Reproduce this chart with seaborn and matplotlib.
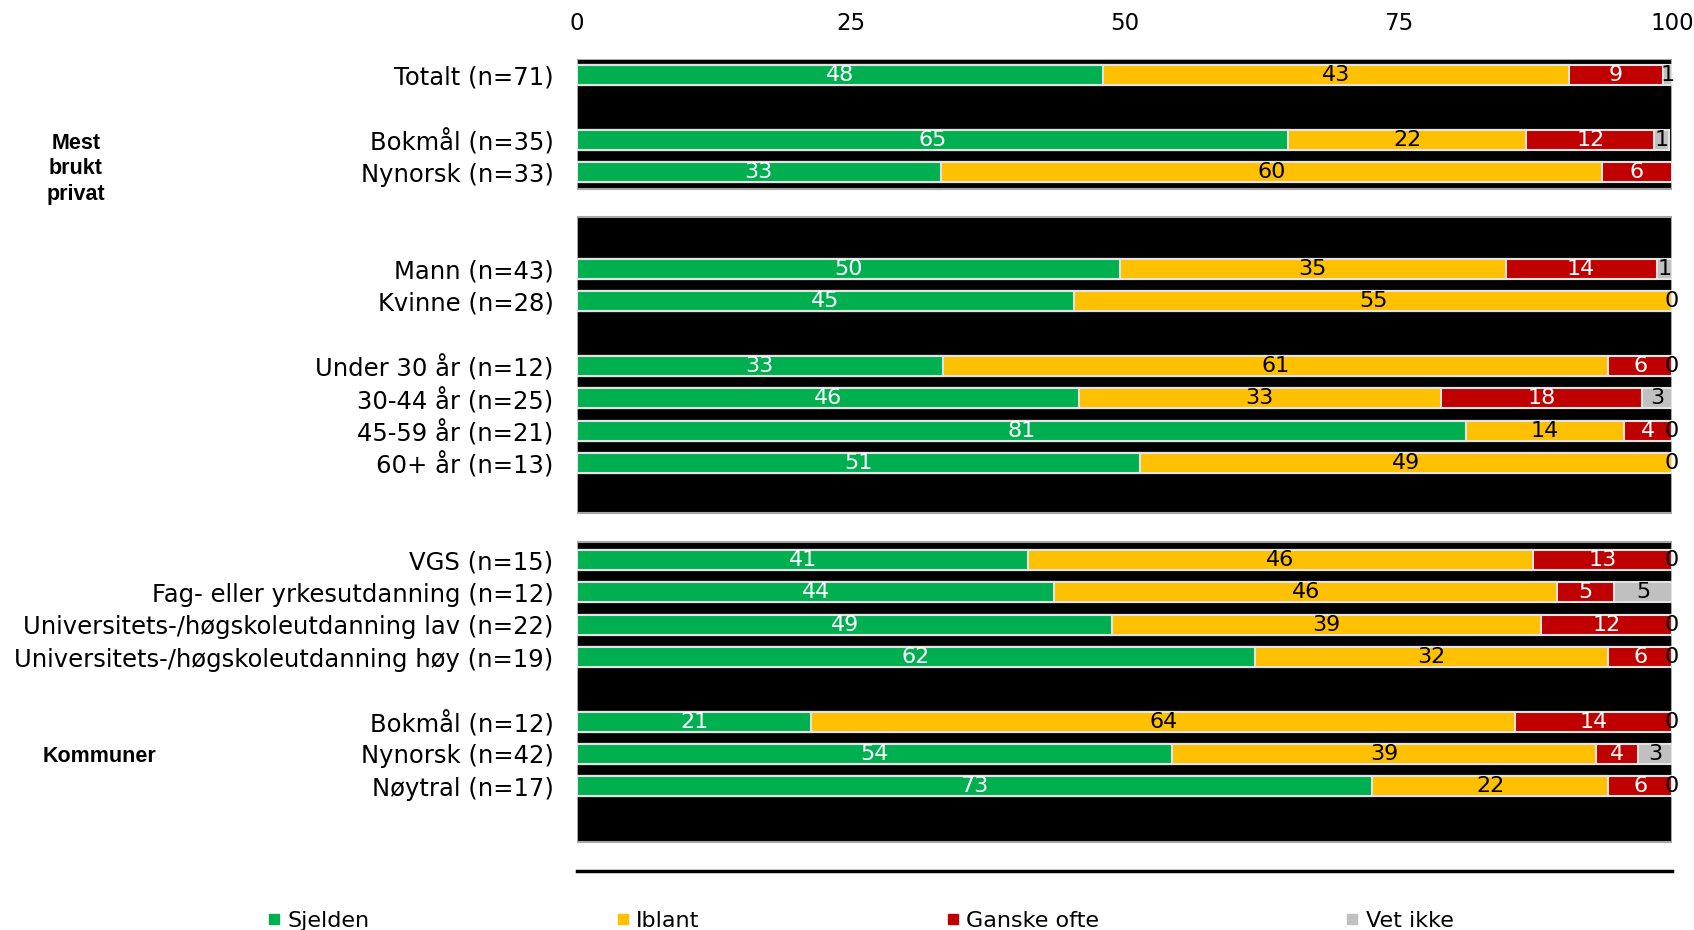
import numpy as np
import pandas as pd
import matplotlib
matplotlib.use('Agg')
import matplotlib.pyplot as plt
from matplotlib.lines import Line2D
import seaborn as sns

# row order of the chart, None = empty spacer row
row_order = ['Totalt (n=71)', None, 'Bokmål (n=35)', 'Nynorsk (n=33)', None, None,
             'Mann (n=43)', 'Kvinne (n=28)', None,
             'Under 30 år (n=12)', '30-44 år (n=25)', '45-59 år (n=21)', '60+ år (n=13)', None, None,
             'VGS (n=15)', 'Fag- eller yrkesutdanning (n=12)',
             'Universitets-/høgskoleutdanning lav (n=22)', 'Universitets-/høgskoleutdanning høy (n=19)', None,
             'Bokmål (n=12)', 'Nynorsk (n=42)', 'Nøytral (n=17)', None]

categories = [r for r in row_order if r is not None]
sjelden = [48.0, 64.9, 33.2, 49.6, 45.4, 33.4, 45.8, 81.2, 51.4, 41.2, 43.6, 48.9, 61.9, 21.4, 54.3, 72.6]
iblant = [42.6, 21.8, 60.4, 35.2, 54.6, 60.8, 33.1, 14.4, 48.6, 46.1, 45.9, 39.1, 32.3, 64.3, 38.8, 21.6]
ganske_ofte = [8.6, 11.7, 6.4, 13.8, np.nan, 5.8, 18.4, 4.4, np.nan, 12.7, 5.2, 12.0, 5.8, 14.3, 3.8, 5.8]
vet_ikke = [0.8, 1.3, np.nan, 1.4, 0, 0, 2.7, 0, 0, 0, 5.3, 0, 0, 0, 3.1, 0]

series = ['Sjelden', 'Iblant', 'Ganske ofte', 'Vet ikke']
colors = ['#00B050', '#FFC000', '#C00000', '#C0C0C0']
text_colors = ['white', 'black', 'white', 'black']

keys = [r if r is not None else f'_blank{i}' for i, r in enumerate(row_order)]
shown = [r if r is not None else '' for r in row_order]

df = pd.DataFrame({'row': categories, 'Sjelden': sjelden, 'Iblant': iblant,
                   'Ganske ofte': ganske_ofte, 'Vet ikke': vet_ikke})
vals = df[series].fillna(0).to_numpy()
cum = np.cumsum(vals, axis=1)
for j, s in enumerate(series):
    df['cum_' + s] = cum[:, j]

sns.set_style('white')
plt.rcParams['font.family'] = ['DejaVu Sans']
plt.rcParams['text.color'] = 'black'
plt.rcParams['xtick.color'] = 'black'
plt.rcParams['ytick.color'] = 'black'

fig = plt.figure(figsize=(16.94, 9.30), dpi=100)
ax = fig.add_axes([577 / 1694, 59 / 930, 1095 / 1694, 812 / 930])

# black panels behind the bars
for top, bottom in [(-0.5, 3.53), (4.40, 13.56), (14.44, 23.72)]:
    ax.axhspan(top, bottom, facecolor='black', edgecolor='#A6A6A6', linewidth=1.5, zorder=0)

# stacked bars: draw cumulative totals from the back
for j in range(len(series) - 1, -1, -1):
    s = series[j]
    sns.barplot(data=df, x='cum_' + s, y='row', order=keys, orient='h', color=colors[j],
                saturation=1, width=0.62, edgecolor='#E3E3E3', linewidth=1.5,
                errorbar=None, ax=ax, zorder=2)

# value labels
raw = df[series].to_numpy()
for i, r in enumerate(categories):
    ypos = keys.index(r)
    left = 0
    for j in range(len(series)):
        v = raw[i, j]
        if np.isnan(v):
            continue
        ax.text(left + v / 2, ypos, f'{v:.0f}', ha='center', va='center',
                color=text_colors[j], fontsize=16, zorder=5)
        left += v

ax.set_xlim(0, 100)
ax.set_ylim(24.62, -0.5)
ax.set_xticks([0, 25, 50, 75, 100])
ax.xaxis.tick_top()
ax.tick_params(axis='x', length=0, pad=17, labelsize=16.5, labelcolor='black')
ax.set_yticks(range(len(keys)))
ax.set_yticklabels(shown, va='center_baseline')
ax.tick_params(axis='y', length=0, pad=17, labelsize=17.5, labelcolor='black')
ax.set_xlabel('')
ax.set_ylabel('')
for side in ['top', 'left', 'right']:
    ax.spines[side].set_visible(False)
ax.spines['bottom'].set_color('black')
ax.spines['bottom'].set_linewidth(2.5)

# group labels
fig.text(76 / 1694, 1 - 169 / 930, 'Mest\nbrukt\nprivat', ha='center', va='center',
         fontweight='bold', family='Liberation Sans', fontsize=15.5, linespacing=1.3,
         color='black')
fig.text(99 / 1694, 1 - 756 / 930, 'Kommuner', ha='center', va='center',
         fontweight='bold', family='Liberation Sans', fontsize=15.5, color='black')

handles = [Line2D([0], [0], marker='s', linestyle='none', markersize=7,
                  markerfacecolor=c, markeredgecolor=c) for c in colors]
leg = fig.legend(handles, series, loc='center left', bbox_to_anchor=(256 / 1694, 1 - 921 / 930),
                 ncol=4, frameon=False, fontsize=16, columnspacing=11.1,
                 handlelength=0.6, handletextpad=0.3, borderpad=0)
for t in leg.get_texts():
    t.set_color('black')

fig.savefig('out.png', dpi=100)
